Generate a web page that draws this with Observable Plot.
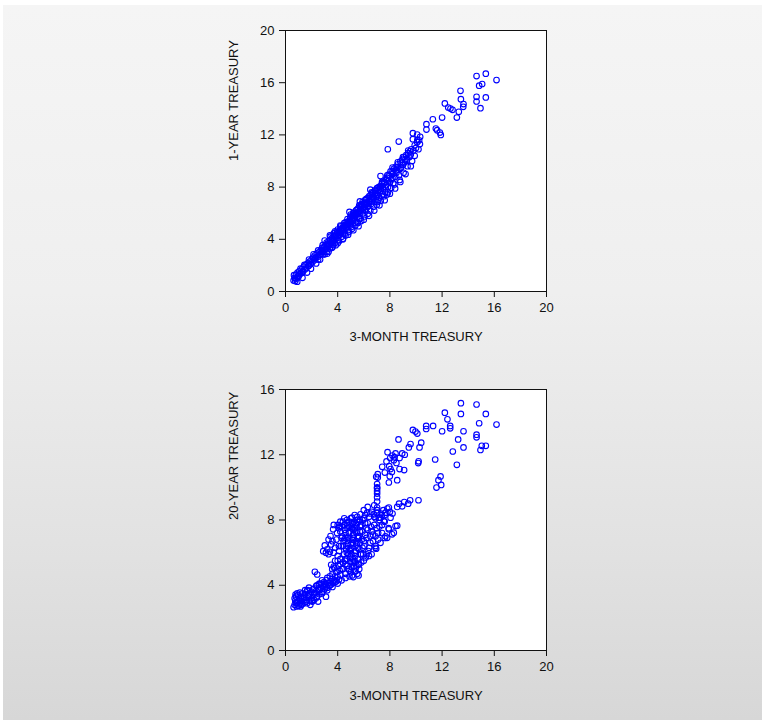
<!DOCTYPE html>
<html>
<head>
<meta charset="utf-8">
<script src="https://cdn.jsdelivr.net/npm/d3@7"></script>
<script src="https://cdn.jsdelivr.net/npm/@observablehq/plot@0.6"></script>
<style>
  html, body { margin: 0; padding: 0; background: #ffffff; width: 762px; height: 720px; overflow: hidden; }
  #panel { position: absolute; left: 3px; top: 5px; width: 759px; height: 715px;
           background: linear-gradient(#f5f5f5 0%, #efefef 40%, #e2e2e2 75%, #d7d7d7 100%); }
  .chart { position: absolute; left: 205px; }
  #top { top: 9px; }
  #bottom { top: 368px; }
</style>
</head>
<body>
<div id="panel"></div>
<div id="top" class="chart"></div>
<div id="bottom" class="chart"></div>
<script>
// ---- Data ----
const xLabel = "3-MONTH TREASURY";
const topYLabel = "1-YEAR TREASURY";
const bottomYLabel = "20-YEAR TREASURY";
const xTicks = [0, 4, 8, 12, 16, 20];
const topYTicks = [0, 4, 8, 12, 16, 20];
const bottomYTicks = [0, 4, 8, 12, 16];

// Top panel: 3-month (x) vs 1-year (y)
const top3m = [
0.62,0.70,0.75,0.80,0.85,0.92,1.00,1.05,1.10,1.20,1.25,1.35,1.40,1.50,1.55,1.60,1.70,1.75,1.85,1.90,
2.00,2.05,2.10,2.20,2.25,2.30,2.40,2.45,2.50,2.55,2.60,2.70,2.75,2.80,2.85,2.90,2.95,3.00,3.05,3.10,
3.15,3.20,3.25,3.30,3.35,3.40,3.45,3.50,3.55,3.60,3.65,3.70,3.75,3.80,3.85,3.90,3.95,4.00,4.05,4.10,
4.15,4.20,4.25,4.30,4.35,4.40,4.45,4.50,4.55,4.60,4.65,4.70,4.75,4.80,4.85,4.90,4.95,5.00,5.05,5.10,
5.15,5.20,5.25,5.30,5.35,5.40,5.45,5.50,5.55,5.60,5.65,5.70,5.75,5.80,5.85,5.90,5.95,6.00,6.05,6.10,
6.15,6.20,6.30,6.35,6.40,6.50,6.55,6.60,6.70,6.75,6.80,6.90,6.95,7.02,7.05,7.10,7.20,7.25,7.28,7.30,
7.40,7.45,7.50,7.60,7.65,7.70,7.79,7.80,7.85,7.90,8.00,8.05,8.10,8.20,8.25,8.30,8.40,8.45,8.50,8.60,
8.65,8.70,8.80,8.85,8.95,9.00,9.10,9.15,9.25,9.30,9.40,9.50,9.55,
3.60,3.90,4.20,4.45,4.70,4.95,5.20,5.45,5.70,6.00,6.25,6.45,6.65,6.85,7.15,7.35,7.55,7.75,3.20,3.75,
4.30,4.60,4.90,5.25,5.60,5.90,6.20,6.60,
7.84,8.68,9.63,10.19,9.76,10.09,10.32,10.24,9.76,10.09,10.80,10.80,11.52,11.62,11.83,11.90,11.29,12.00,
12.21,12.47,12.64,12.80,13.28,13.13,13.41,13.44,13.64,13.62,14.64,14.64,14.64,15.35,14.94,14.84,15.07,
15.35,16.17,
0.65,0.90,1.15,1.30,1.45,1.65,1.80,1.95,2.15,2.35,2.50,2.65,2.85,3.00,3.15,3.30,3.45,3.55,3.70,3.85,
4.00,4.10,4.25,4.40,4.50,4.60,4.75,4.85,5.00,5.10,5.20,5.35,5.55,5.65,5.80,5.90,6.05,6.15,6.30,6.40,
6.50,6.60,6.75,6.85,7.00,7.15,7.30,7.40,7.55,7.70,7.85,7.95,8.10,8.20,8.35,8.55,8.75,8.90,9.05,9.20,
9.35,9.60,9.70,9.80,9.90,10.00,
4.30,4.80,5.30,5.50,5.80,6.10,6.40,6.70,7.00,7.30,7.60,7.90,8.20,8.50,8.80,3.30,3.60,2.80,2.30,1.80,
1.30,1.00,0.75,
3.00,3.20,3.40,3.60,3.80,4.00,4.20,4.40,4.60,4.80,5.00,5.20,5.40,5.60,5.80,6.00,6.20,6.40,6.60,6.80,
7.00,7.20,7.40,7.60,7.80,8.00,8.20,8.40,8.60,8.80,9.00,9.20,9.40,9.60,5.50,6.30,7.10,4.90,5.70,6.50,
9.90,10.10,10.30
];
const top1y = [
0.85,1.05,0.80,1.30,1.00,1.45,1.20,1.55,1.35,1.40,1.70,1.55,1.90,1.70,2.05,1.80,2.15,1.95,2.30,2.10,
2.45,2.25,2.60,2.40,2.75,2.55,2.90,2.65,2.45,3.00,2.80,3.15,2.90,3.35,3.05,2.85,3.40,3.20,3.55,3.30,
3.05,3.65,3.45,3.85,3.55,3.30,3.95,3.70,4.10,3.85,3.55,4.25,4.00,3.75,4.35,4.10,4.55,4.25,3.95,4.60,
4.35,4.80,4.50,4.20,4.85,4.60,5.05,4.75,4.45,5.10,4.85,5.30,5.00,4.70,5.40,5.15,5.60,5.30,4.95,5.55,
5.80,5.40,6.00,5.65,5.25,5.95,6.25,5.70,6.35,6.05,5.55,6.50,5.60,6.20,6.70,6.40,6.00,6.75,6.50,7.00,
6.25,6.80,7.15,6.55,6.95,7.35,6.70,7.10,7.55,7.25,6.90,7.70,7.40,6.85,7.95,7.55,7.20,8.05,8.85,7.70,
8.25,7.45,7.90,8.40,7.60,8.15,7.44,8.70,8.00,8.95,8.35,9.20,8.60,9.00,8.30,9.40,8.80,9.55,9.10,9.75,
9.35,8.90,9.95,9.50,10.10,9.70,10.30,9.90,10.45,10.10,10.60,10.30,10.75,
4.00,4.30,4.55,4.85,5.10,5.35,5.65,5.90,6.15,6.40,6.70,6.95,7.20,7.50,7.80,8.10,8.30,8.55,3.60,4.20,
4.70,5.05,5.35,5.75,6.10,6.35,6.75,7.05,
10.90,11.49,10.90,10.90,12.13,12.03,11.85,11.59,11.67,11.44,12.82,12.41,12.49,12.36,12.18,12.00,13.20,13.33,
14.41,14.10,14.02,13.92,13.77,13.33,15.38,14.74,14.36,14.15,16.51,14.92,14.56,16.69,14.05,15.77,15.90,
14.87,16.20,
1.25,0.75,1.75,1.05,2.05,1.45,2.45,1.75,2.85,2.15,3.15,2.45,3.55,2.85,3.75,3.05,4.20,3.35,4.45,3.55,
4.75,3.85,5.00,4.05,5.25,4.30,5.55,4.55,5.75,4.80,6.05,5.05,5.25,6.60,5.40,6.85,5.75,7.05,5.95,7.30,
6.20,7.50,6.50,7.75,6.65,8.00,6.95,8.30,7.30,8.60,7.60,8.85,7.95,9.20,8.20,9.50,8.55,9.85,9.10,10.15,
9.60,10.50,10.00,10.80,10.40,11.00,
4.70,5.20,5.90,6.00,6.55,6.60,6.85,7.30,7.30,7.90,8.00,8.50,8.70,9.30,9.40,3.60,4.00,3.10,2.60,2.00,
1.50,1.15,1.00,
3.90,2.90,4.30,3.40,4.60,3.70,5.05,4.00,5.30,4.35,5.90,4.70,6.20,5.00,6.60,5.50,7.10,5.80,7.60,6.20,
7.90,6.60,8.40,7.00,8.90,7.50,9.50,7.90,9.90,8.40,10.30,9.00,10.80,9.60,5.30,6.50,7.00,6.10,6.90,7.80,
11.20,11.60,11.30
];

// Bottom panel: 3-month (x) vs 20-year (y)
const bot3m = [
0.62,0.70,0.75,0.80,0.85,0.90,0.95,1.00,1.05,1.10,1.15,1.20,1.25,1.30,1.40,1.45,1.50,1.60,1.65,1.70,
1.75,1.85,1.90,2.00,2.05,2.10,2.15,2.20,2.30,2.35,2.40,2.50,2.55,2.60,2.70,2.75,2.80,2.90,2.95,3.00,
3.10,3.15,3.20,3.30,3.35,3.45,3.50,3.60,3.65,3.75,3.80,3.90,4.00,4.10,4.20,2.25,2.43,1.66,0.77,
3.70,3.58,3.80,3.90,4.00,4.05,4.10,4.15,4.20,4.25,4.30,4.35,4.40,4.45,4.50,4.55,4.60,4.65,4.70,4.75,
4.80,4.85,4.90,4.95,5.00,5.05,5.10,5.15,5.20,5.25,5.29,5.30,5.35,5.40,5.45,5.50,5.55,5.60,5.65,5.70,
5.75,5.80,5.85,5.90,5.95,6.00,6.05,6.10,6.15,6.26,6.20,6.30,6.35,6.40,6.50,6.55,6.60,6.70,6.80,6.90,
6.95,7.00,7.10,7.20,7.28,7.40,7.60,7.79,7.90,8.05,8.30,8.56,8.20,7.50,
4.85,4.95,5.05,5.10,5.15,5.20,5.25,5.35,5.40,5.45,5.50,5.55,5.60,5.65,5.70,5.75,4.70,4.75,4.60,4.50,
4.40,4.30,4.20,4.10,3.95,3.65,4.16,3.45,3.01,2.89,3.40,4.09,3.20,3.60,3.80,3.30,3.50,3.75,5.36,4.55,
4.90,5.00,5.20,5.45,4.75,5.30,5.60,4.95,5.15,5.55,
6.00,6.30,6.60,6.80,7.02,7.02,7.20,7.40,7.60,7.80,7.92,8.43,8.17,7.66,6.90,7.28,7.92,7.54,6.77,7.15,
7.66,8.56,8.94,9.40,9.55,10.19,9.10,8.70,
7.02,7.02,7.02,7.02,7.02,7.07,7.07,6.95,7.41,7.61,7.74,7.82,7.92,7.99,8.02,8.05,8.30,8.43,8.56,8.66,
8.74,8.74,8.94,9.09,9.14,9.45,9.58,9.76,9.96,10.17,10.27,10.40,10.78,10.78,11.31,11.47,11.57,11.72,11.88,11.93,
12.00,12.21,12.41,12.62,12.62,12.82,13.13,13.23,13.44,13.44,13.64,13.64,14.64,14.64,14.64,14.84,14.94,15.04,15.35,15.35,
16.17,8.20,8.50,7.95,8.35,8.15,10.10,10.20,
0.70,0.90,1.10,1.30,1.50,1.80,2.00,2.20,2.40,2.60,2.80,3.00,3.20,3.40,3.60,1.20,1.60,2.00,2.40,2.80,
3.20,3.60,4.00,4.30,4.60,4.90,5.20,5.60,
4.60,4.70,4.80,4.90,5.00,5.10,5.20,5.30,5.40,5.50,4.80,4.90,5.00,5.10,5.20,5.30,5.40,5.50,5.60,5.70,
5.80,5.90,5.30,5.00,4.70,4.90,5.10,5.60,5.80,5.90,6.00,6.10,6.20,6.30,6.00,6.20,6.40,6.50,6.60,6.80,
4.40,4.50,4.30,4.20,4.60,4.80,4.00,3.90,4.40,4.60,4.20,4.00,3.70,3.50,3.30,3.10,3.70,4.50,5.70,6.10,
6.50,6.90,7.30,7.60,8.00,7.10,7.40,6.70,6.40,6.90,7.02,7.02,7.02,
1.00,1.40,1.80,2.20,2.60,3.00,3.40,3.80,0.80,1.90,2.50,3.10
];
const bot20y = [
2.65,2.80,3.05,3.30,2.70,2.95,3.40,2.75,3.15,2.90,2.70,3.35,3.05,2.85,3.20,2.95,3.45,3.10,2.90,3.70,
3.30,3.05,3.50,3.20,3.00,3.75,3.40,3.10,3.55,3.95,3.25,3.70,4.05,3.45,3.85,4.10,3.60,3.95,4.20,3.75,
4.05,4.30,3.85,4.15,3.95,4.25,4.05,4.40,4.15,4.30,4.55,4.25,4.50,4.35,4.65,4.82,4.66,3.67,3.43,
5.15,4.98,5.50,4.80,5.80,5.20,6.10,4.90,5.60,6.40,5.00,7.00,5.40,6.70,5.90,7.40,4.70,6.20,7.80,5.20,
6.60,7.20,4.90,5.70,7.60,6.30,8.14,5.40,6.90,7.90,4.86,6.00,7.30,5.10,6.50,8.00,5.60,7.00,6.20,7.60,
8.35,5.40,6.80,7.30,5.90,8.10,6.40,7.80,5.70,8.45,6.90,7.40,6.10,8.20,6.60,7.60,5.90,7.10,8.20,6.40,
6.24,7.50,6.80,8.00,8.14,7.20,7.90,6.91,7.50,8.14,7.22,7.65,8.40,8.60,
5.00,5.45,5.90,4.60,6.60,7.40,5.20,5.80,6.70,7.70,4.70,6.30,7.90,5.00,6.60,5.90,6.00,7.50,6.90,7.70,
7.90,7.60,7.30,7.50,7.20,7.43,7.60,7.02,6.44,6.09,6.05,6.40,6.20,6.70,6.30,5.90,5.25,5.05,4.86,5.50,
6.80,6.20,7.10,7.25,6.40,5.50,5.25,6.10,7.75,6.90,
8.60,8.80,8.50,8.90,8.45,8.76,7.60,8.30,6.90,8.70,8.76,7.63,7.12,7.00,6.30,6.60,7.43,7.94,8.35,8.14,
8.45,8.80,8.84,9.00,9.21,9.21,9.10,9.00,
9.13,9.62,9.78,9.95,10.20,10.60,10.81,10.65,11.26,10.91,11.59,12.16,10.30,10.68,11.80,11.12,11.67,12.08,10.44,12.94,
11.80,11.12,12.08,11.06,12.00,12.45,12.66,13.52,13.42,11.49,12.45,12.74,13.77,13.58,13.77,11.71,9.99,10.44,10.67,10.15,
13.44,14.58,14.17,13.77,13.62,12.20,11.38,12.94,15.16,14.50,13.44,12.45,15.08,13.23,13.07,13.93,12.29,12.55,12.55,14.50,
13.85,11.95,11.50,11.30,11.85,10.95,13.30,11.60,
3.20,3.50,3.55,3.50,3.70,3.85,3.60,3.80,4.00,4.10,4.30,4.10,4.45,4.55,4.70,2.80,3.00,3.05,3.30,3.50,
3.70,3.90,4.10,4.30,4.45,4.55,4.50,4.60,
5.30,5.60,5.90,6.20,6.50,6.80,7.10,7.50,7.80,8.20,6.90,7.30,4.80,5.10,5.60,5.40,6.10,6.60,6.90,7.30,
7.70,8.00,8.30,8.10,8.00,7.90,7.50,5.30,5.90,6.30,6.70,7.10,7.50,7.80,5.50,5.90,6.30,7.00,7.30,7.70,
6.40,6.80,6.90,7.90,7.20,7.60,7.70,6.80,5.00,5.60,5.30,5.50,6.00,6.50,6.80,6.00,7.70,8.10,8.00,8.30,
8.40,8.10,8.40,8.30,8.50,7.20,7.70,6.70,5.80,7.00,8.60,9.40,10.00,
3.00,3.30,3.40,3.50,3.70,3.90,4.00,4.20,2.90,2.80,3.00,3.30
];

const topData = top3m.map((x, i) => ({x, y: top1y[i]}));
const bottomData = bot3m.map((x, i) => ({x, y: bot20y[i]}));

function scatter(data, yDomain, yTicks, yLabel) {
  return Plot.plot({
    width: 361,
    height: 351,
    marginLeft: 80,
    marginRight: 20,
    marginTop: 21,
    marginBottom: 69,
    style: {fontFamily: "'Liberation Sans', Arial, sans-serif", fontSize: "13px", background: "transparent", color: "#111"},
    x: {domain: [0, 20]},
    y: {domain: yDomain},
    marks: [
      Plot.frame({stroke: "#111", fill: "white"}),
      Plot.dot(data, {x: "x", y: "y", r: 2.8, stroke: "#0000ff", strokeWidth: 1.1, fill: "none"}),
      Plot.axisX({ticks: xTicks, tickSize: 6, tickPadding: 5, label: null, fontSize: 13}),
      Plot.axisY({ticks: yTicks, tickSize: 6, tickPadding: 5, label: null, fontSize: 13}),
      Plot.text([xLabel], {text: d => d, frameAnchor: "bottom", dy: 49, fontSize: 13, fill: "#111"}),
      Plot.text([yLabel], {text: d => d, frameAnchor: "left", dx: -52, rotate: -90, fontSize: 13, fill: "#111"})
    ]
  });
}

document.getElementById("top").appendChild(scatter(topData, [0, 20], topYTicks, topYLabel));
document.getElementById("bottom").appendChild(scatter(bottomData, [0, 16], bottomYTicks, bottomYLabel));
</script>
</body>
</html>
